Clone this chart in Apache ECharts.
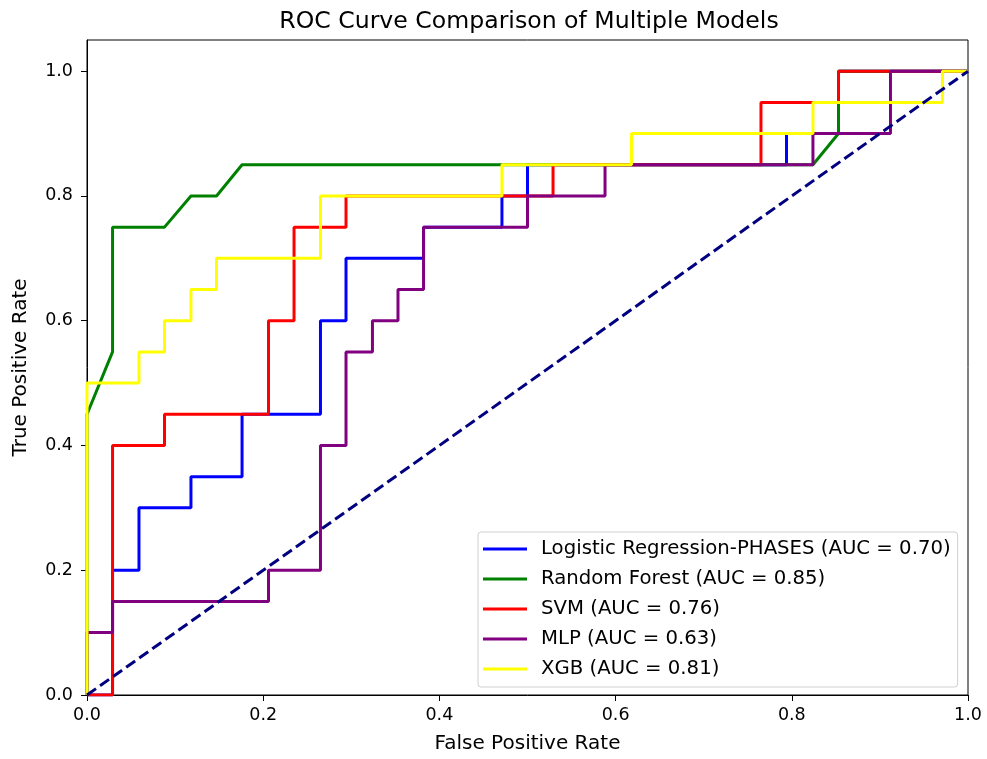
<!DOCTYPE html>
<html>
<head>
<meta charset="utf-8">
<script src="https://cdn.jsdelivr.net/npm/echarts@6/dist/echarts.min.js"></script>
<style>html,body{margin:0;padding:0;background:#fff}#c{width:987px;height:759px}</style>
</head>
<body>
<div id="c"></div>
<script>
// Tick labels
const xTicks = [0, 0.2, 0.4, 0.6, 0.8, 1.0];
const yTicks = [0, 0.2, 0.4, 0.6, 0.8, 1.0];

// Model names
const modelNames = [
  'Logistic Regression-PHASES (AUC = 0.70)',
  'Random Forest (AUC = 0.85)',
  'SVM (AUC = 0.76)',
  'MLP (AUC = 0.63)',
  'XGB (AUC = 0.81)'
];

// ROC points (FPR, TPR) per model
const lrFpr = [0, 0.029, 0.029, 0.059, 0.059, 0.118, 0.118, 0.176, 0.176, 0.265, 0.265, 0.294, 0.294, 0.382, 0.382, 0.471, 0.471, 0.5, 0.5, 0.794, 0.794, 0.853, 0.853, 1.0];
const lrTpr = [0, 0, 0.2, 0.2, 0.3, 0.3, 0.35, 0.35, 0.45, 0.45, 0.6, 0.6, 0.7, 0.7, 0.75, 0.75, 0.8, 0.8, 0.85, 0.85, 0.9, 0.9, 1.0, 1.0];

const rfFpr = [0, 0, 0.029, 0.029, 0.088, 0.118, 0.147, 0.176, 0.824, 0.853, 0.853, 1.0];
const rfTpr = [0, 0.45, 0.55, 0.75, 0.75, 0.8, 0.8, 0.85, 0.85, 0.9, 1.0, 1.0];

const svmFpr = [0, 0.029, 0.029, 0.088, 0.088, 0.206, 0.206, 0.235, 0.235, 0.294, 0.294, 0.529, 0.529, 0.765, 0.765, 0.853, 0.853, 1.0];
const svmTpr = [0, 0, 0.4, 0.4, 0.45, 0.45, 0.6, 0.6, 0.75, 0.75, 0.8, 0.8, 0.85, 0.85, 0.95, 0.95, 1.0, 1.0];

const mlpFpr = [0, 0, 0.029, 0.029, 0.206, 0.206, 0.265, 0.265, 0.294, 0.294, 0.324, 0.324, 0.353, 0.353, 0.382, 0.382, 0.5, 0.5, 0.588, 0.588, 0.824, 0.824, 0.912, 0.912, 1.0];
const mlpTpr = [0, 0.1, 0.1, 0.15, 0.15, 0.2, 0.2, 0.4, 0.4, 0.55, 0.55, 0.6, 0.6, 0.65, 0.65, 0.75, 0.75, 0.8, 0.8, 0.85, 0.85, 0.9, 0.9, 1.0, 1.0];

const xgbFpr = [0, 0, 0.059, 0.059, 0.088, 0.088, 0.118, 0.118, 0.147, 0.147, 0.265, 0.265, 0.471, 0.471, 0.618, 0.618, 0.824, 0.824, 0.971, 0.971, 1.0];
const xgbTpr = [0, 0.5, 0.5, 0.55, 0.55, 0.6, 0.6, 0.65, 0.65, 0.7, 0.7, 0.8, 0.8, 0.85, 0.85, 0.9, 0.9, 0.95, 0.95, 1.0, 1.0];

const diagFpr = [0, 1];
const diagTpr = [0, 1];

const colors = ['#0000ff', '#008000', '#ff0000', '#800080', '#ffff00'];
const modelFpr = [lrFpr, rfFpr, svmFpr, mlpFpr, xgbFpr];
const modelTpr = [lrTpr, rfTpr, svmTpr, mlpTpr, xgbTpr];

const zip = (a, b) => a.map((v, i) => [v, b[i]]);
const FONT = 'DejaVu Sans';

const series = modelNames.map((name, i) => ({
  name: name,
  type: 'line',
  data: zip(modelFpr[i], modelTpr[i]),
  showSymbol: false,
  symbol: 'none',
  color: colors[i],
  lineStyle: { color: colors[i], width: 3 },
  z: 2 + i,
  animation: false
}));
series.push({
  name: 'diag',
  type: 'line',
  data: zip(diagFpr, diagTpr),
  symbol: 'none',
  lineStyle: { color: '#000080', width: 3, type: [11, 5] },
  z: 10,
  animation: false
});

const axisCommon = {
  type: 'value',
  interval: 0.2,
  axisLine: { show: true, lineStyle: { color: '#000', width: 1 } },
  axisTick: { show: true, inside: false, length: 6, lineStyle: { color: '#000' } },
  splitLine: { show: false },
  nameLocation: 'middle',
  nameTextStyle: { fontFamily: FONT, fontSize: 20, color: '#000' }
};

const chart = echarts.init(document.getElementById('c'), null, { renderer: 'canvas' });
chart.setOption({
  backgroundColor: '#fff',
  animation: false,
  title: {
    text: 'ROC Curve Comparison of Multiple Models',
    left: 524, top: 5, textAlign: 'center',
    textStyle: { fontFamily: FONT, fontSize: 23.6, fontWeight: 'normal', color: '#000' }
  },
  grid: { left: 87, right: 19, top: 40, bottom: 62, show: true, borderColor: '#000', borderWidth: 1, backgroundColor: 'transparent' },
  legend: {
    data: modelNames,
    orient: 'vertical',
    left: 478, top: 532,
    icon: 'rect',
    itemWidth: 44, itemHeight: 3,
    itemGap: 10,
    padding: [7, 7, 8, 5],
    borderColor: '#d0d0d0', borderWidth: 1, borderRadius: 3,
    backgroundColor: 'rgba(255,255,255,0.8)',
    textStyle: { fontFamily: FONT, fontSize: 19.7, color: '#000', padding: [0, 0, 0, 9] }
  },
  xAxis: Object.assign({}, axisCommon, {
    min: 0, max: 1,
    name: 'False Positive Rate', nameGap: 39,
    axisLabel: { customValues: xTicks, margin: 11, fontFamily: FONT, fontSize: 17.5, color: '#000', formatter: v => v.toFixed(1) },
    axisTick: Object.assign({}, axisCommon.axisTick, { customValues: xTicks })
  }),
  yAxis: Object.assign({}, axisCommon, {
    min: 0, max: 1.05,
    name: 'True Positive Rate', nameGap: 56,
    axisLabel: { customValues: yTicks, margin: 14, fontFamily: FONT, fontSize: 17.5, color: '#000', formatter: v => v.toFixed(1) },
    axisTick: Object.assign({}, axisCommon.axisTick, { customValues: yTicks })
  }),
  series: series
});
</script>
</body>
</html>
